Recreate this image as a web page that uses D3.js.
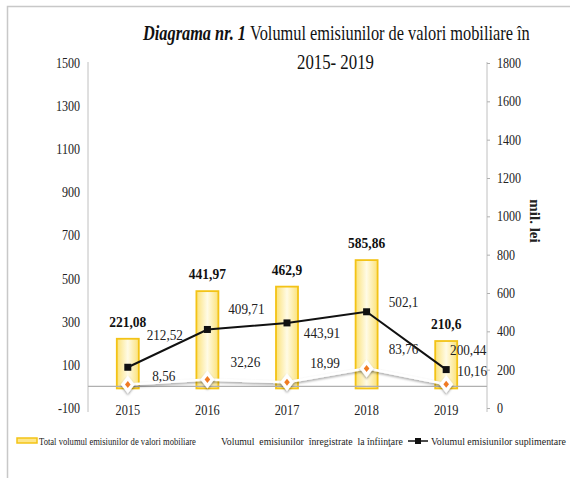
<!DOCTYPE html>
<html><head><meta charset="utf-8">
<script src="https://cdn.jsdelivr.net/npm/d3@7"></script>
<style>
html,body{margin:0;padding:0;background:#fff;}
svg{display:block;}
svg text{font-family:"Liberation Serif","Times New Roman",serif;}
</style></head>
<body>
<svg id="c" width="570" height="478"></svg>
<script>
const years = ["2015","2016","2017","2018","2019"];
const totalValues = [221.08, 441.97, 462.9, 585.86, 210.6];
const foundingValues = [8.56, 32.26, 18.99, 83.76, 10.16];
const supplementaryValues = [212.52, 409.71, 443.91, 502.1, 200.44];
const totalLabels = ["221,08","441,97","462,9","585,86","210,6"];
const foundingLabels = ["8,56","32,26","18,99","83,76","10,16"];
const supplementaryLabels = ["212,52","409,71","443,91","502,1","200,44"];
const leftTicks = [-100,100,300,500,700,900,1100,1300,1500];
const rightTicks = [0,200,400,600,800,1000,1200,1400,1600,1800];
const seriesNames = ["Total volumul emisiunilor de valori mobiliare","Volumul  emisiunilor  înregistrate  la înfiinţare","Volumul emisiunilor suplimentare"];

// layout (label offsets relative to point, px)
const supLabelOffset = [[37,-27],[39,-15],[35,15],[37,-5],[22,-15]];
const fndLabelOffset = [[36,-4],[38,-12],[38,-14],[37,-14],[26,-8]];

const svg = d3.select("#c");

svg.append("path").attr("d","M7.5,478 V6.5 H570").attr("fill","none").attr("stroke","#c8c8c8").attr("stroke-width",1.5);

const x = d3.scaleBand().domain(years).range([88,486]);
const yL = d3.scaleLinear().domain([-100,1500]).range([408,63]);
const yR = d3.scaleLinear().domain([0,1800]).range([408,63]);
const cx = d => x(d) + x.bandwidth()/2;

// place a text at (px,py) scaled horizontally to width w (anchor start)
function placeFit(sel, px, py, w){
  const n = sel.node();
  sel.attr("x",0).attr("y",0);
  const cur = n.getComputedTextLength();
  sel.attr("transform",`translate(${px},${py}) scale(${w/cur},1)`);
}
function condense(sel, f){
  sel.each(function(){
    const w = this.getComputedTextLength();
    d3.select(this).attr("textLength", w*f).attr("lengthAdjust","spacingAndGlyphs");
  });
}

const defs = svg.append("defs");
const g = defs.append("linearGradient").attr("id","bg").attr("x1","0").attr("x2","1").attr("y1","0").attr("y2","0");
g.append("stop").attr("offset","0%").attr("stop-color","#fbe27a");
g.append("stop").attr("offset","50%").attr("stop-color","#fffbe6");
g.append("stop").attr("offset","100%").attr("stop-color","#fbe27a");
const sh = defs.append("filter").attr("id","sh").attr("x","-50%").attr("y","-50%").attr("width","200%").attr("height","200%");
sh.append("feDropShadow").attr("dx",0).attr("dy",1.5).attr("stdDeviation",1.2).attr("flood-color","#000").attr("flood-opacity",0.4);

// axes
const axL = svg.append("g").attr("transform","translate(88,0)")
  .call(d3.axisLeft(yL).tickValues(leftTicks).tickSize(0).tickPadding(8).tickFormat(d => String(d)));
axL.attr("font-family",null);
axL.select(".domain").attr("stroke","#c0c0c0").attr("d","M0,62V412");
axL.selectAll("text").attr("font-size",14).attr("fill","#222");
condense(axL.selectAll("text"), 0.86);

const axR = svg.append("g").attr("transform","translate(487,0)")
  .call(d3.axisRight(yR).tickValues(rightTicks).tickSize(3).tickPadding(7).tickFormat(d => String(d)));
axR.attr("font-family",null);
axR.select(".domain").attr("stroke","#c0c0c0").attr("d","M0,62V412");
axR.selectAll("line").attr("stroke","#b0b0b0");
axR.selectAll("text").attr("font-size",14).attr("fill","#222");
condense(axR.selectAll("text"), 0.86);

svg.append("text").attr("transform","translate(530,221) rotate(90)").attr("text-anchor","middle")
  .attr("font-size",15).attr("font-weight","bold").attr("fill","#222").text("mil. lei");

// bars
const bw = 22;
svg.append("g").selectAll("rect").data(years).join("rect")
  .attr("x", d => cx(d)-bw/2).attr("width", bw)
  .attr("y", (d,i) => yL(totalValues[i])).attr("height", (d,i) => yL(0)-yL(totalValues[i])+2)
  .attr("fill","url(#bg)").attr("stroke","#f3c316").attr("stroke-width",1.8);

svg.append("line").attr("x1",88).attr("x2",487).attr("y1",yL(0)).attr("y2",yL(0)).attr("stroke","#b0b0b0").attr("stroke-width",1.2);

const xl = svg.append("g").selectAll("text").data(years).join("text")
  .attr("x", d=>cx(d)).attr("y",415).attr("text-anchor","middle").attr("font-size",14).attr("fill","#222").text(d=>d);
condense(xl, 0.88);

// founding series
const lineF = d3.line().x((d,i)=>cx(years[i])).y(d=>yL(d));
svg.append("path").datum(foundingValues).attr("d",lineF).attr("fill","none")
  .attr("stroke","#fff").attr("stroke-width",2.5).attr("filter","url(#sh)");
const dg = svg.append("g").selectAll("g").data(foundingValues).join("g")
  .attr("transform",(d,i)=>`translate(${cx(years[i])},${yL(d)})`);
dg.append("path").attr("d","M0,-9L7,0L0,9L-7,0Z").attr("fill","#fff").attr("filter","url(#sh)");
dg.append("path").attr("d","M0,-3.5L2.8,0L0,3.5L-2.8,0Z").attr("fill","#f07a22");

// supplementary line
const lineS = d3.line().x((d,i)=>cx(years[i])).y(d=>yR(d));
svg.append("path").datum(supplementaryValues).attr("d",lineS).attr("fill","none").attr("stroke","#111").attr("stroke-width",2);
svg.append("g").selectAll("rect").data(supplementaryValues).join("rect")
  .attr("x",(d,i)=>cx(years[i])-3.5).attr("y",d=>yR(d)-3.5).attr("width",7).attr("height",7).attr("fill","#111");

// data labels
const tl = svg.append("g").selectAll("text").data(totalValues).join("text")
  .attr("x",(d,i)=>cx(years[i])).attr("y",d=>yL(d)-12).attr("text-anchor","middle")
  .attr("font-size",15).attr("font-weight","bold").attr("fill","#111").text((d,i)=>totalLabels[i]);
condense(tl, 0.9);
const sl = svg.append("g").selectAll("text").data(supplementaryValues).join("text")
  .attr("x",(d,i)=>cx(years[i])+supLabelOffset[i][0]).attr("y",(d,i)=>yR(d)+supLabelOffset[i][1]).attr("text-anchor","middle")
  .attr("font-size",15).attr("fill","#222").text((d,i)=>supplementaryLabels[i]);
condense(sl, 0.88);
const fl = svg.append("g").selectAll("text").data(foundingValues).join("text")
  .attr("x",(d,i)=>cx(years[i])+fndLabelOffset[i][0]).attr("y",(d,i)=>yL(d)+fndLabelOffset[i][1]).attr("text-anchor","middle")
  .attr("font-size",15).attr("fill","#222").text((d,i)=>foundingLabels[i]);
condense(fl, 0.88);

// title
const t1a = svg.append("text").attr("font-size",20).attr("fill","#111")
  .attr("font-weight","bold").attr("font-style","italic").text("Diagrama nr. 1");
placeFit(t1a, 143, 40, 103);
const t1b = svg.append("text").attr("font-size",20).attr("fill","#111")
  .text("Volumul emisiunilor de valori mobiliare în");
placeFit(t1b, 250, 40, 280);
const t2 = svg.append("text").attr("font-size",20).attr("fill","#111").text("2015- 2019");
placeFit(t2, 297, 69, 77);

// legend
const lg = svg.append("g");
lg.append("rect").attr("x",17).attr("y",438).attr("width",20).attr("height",5).attr("fill","#fde68a").attr("stroke","#f3c316").attr("stroke-width",1.5);
const l1 = lg.append("text").attr("font-size",11).attr("fill","#222").text(seriesNames[0]);
placeFit(l1, 39, 445, 157);
const l2 = lg.append("text").attr("font-size",11).attr("fill","#222").style("white-space","pre").text(seriesNames[1]);
placeFit(l2, 221, 445, 182);
lg.append("line").attr("x1",408).attr("x2",428).attr("y1",441).attr("y2",441).attr("stroke","#111").attr("stroke-width",1.5);
lg.append("rect").attr("x",415).attr("y",438).attr("width",6).attr("height",6).attr("fill","#111");
const l3 = lg.append("text").attr("font-size",11).attr("fill","#222").text(seriesNames[2]);
placeFit(l3, 431, 445, 135);
</script>
</body></html>
